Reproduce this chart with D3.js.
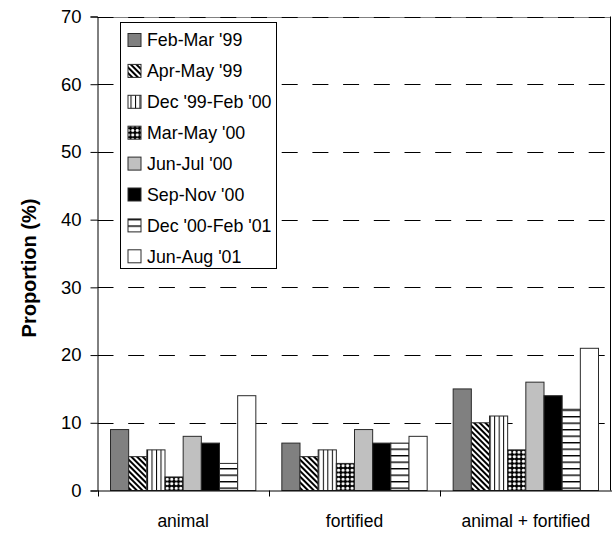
<!DOCTYPE html>
<html>
<head>
<meta charset="utf-8">
<script src="https://cdn.jsdelivr.net/npm/d3@7"></script>
<style>
  html, body { margin: 0; padding: 0; background: #fff; }
  svg { display: block; }
  text { font-family: "Liberation Sans", Arial, sans-serif; fill: #000; }
</style>
</head>
<body>
<svg id="chart" width="612" height="536"></svg>
<script>
const categories = ["animal", "fortified", "animal + fortified"];
const series = ["Feb-Mar '99", "Apr-May '99", "Dec '99-Feb '00", "Mar-May '00", "Jun-Jul '00", "Sep-Nov '00", "Dec '00-Feb '01", "Jun-Aug '01"];
const valuesAnimal = [9, 5, 6, 2, 8, 7, 4, 14];
const valuesFortified = [7, 5, 6, 4, 9, 7, 7, 8];
const valuesBoth = [15, 10, 11, 6, 16, 14, 12, 21];
const yTicks = [0, 10, 20, 30, 40, 50, 60, 70];
const yLabel = "Proportion (%)";

(function () {
const values = [valuesAnimal, valuesFortified, valuesBoth];
const fills = ["#808080", "url(#pDiag)", "url(#pVert)", "url(#pDots)", "#c0c0c0", "#000000", "url(#pHoriz)", "#ffffff"];

const svg = d3.select("#chart");
const defs = svg.append("defs");

const pd = defs.append("pattern").attr("id", "pDiag").attr("patternUnits", "userSpaceOnUse")
  .attr("width", 4).attr("height", 4).attr("patternTransform", "rotate(-45)");
pd.append("rect").attr("width", 4).attr("height", 4).attr("fill", "#fff");
pd.append("rect").attr("width", 2).attr("height", 4).attr("fill", "#000");

const pv = defs.append("pattern").attr("id", "pVert").attr("patternUnits", "userSpaceOnUse")
  .attr("width", 4.5).attr("height", 10);
pv.append("rect").attr("width", 4.5).attr("height", 10).attr("fill", "#fff");
pv.append("rect").attr("x", 0).attr("width", 1).attr("height", 10).attr("fill", "#000");

const pdt = defs.append("pattern").attr("id", "pDots").attr("patternUnits", "userSpaceOnUse")
  .attr("width", 4.5).attr("height", 4.5);
pdt.append("rect").attr("width", 4.5).attr("height", 4.5).attr("fill", "#000");
pdt.append("circle").attr("cx", 2.25).attr("cy", 2.25).attr("r", 1.6).attr("fill", "#fff");

const ph = defs.append("pattern").attr("id", "pHoriz").attr("patternUnits", "userSpaceOnUse")
  .attr("width", 10).attr("height", 6.5);
ph.append("rect").attr("width", 10).attr("height", 6.5).attr("fill", "#fff");
ph.append("rect").attr("y", 0).attr("width", 10).attr("height", 1.4).attr("fill", "#000");

const pLeft = 97.5, pRight = 611.5, pTop = 16.5, pBottom = 490.5;

const y = d3.scaleLinear().domain([0, 70]).range([pBottom, pTop]);
const x0 = d3.scaleBand().domain(categories).range([pLeft, pRight]).padding(0);
const x1 = d3.scaleBand().domain(series).range([13, x0.bandwidth() - 13]).padding(0);

const grid = svg.append("g");
grid.selectAll("line").data(yTicks.filter(d => d > 0 && d < 70)).enter().append("line")
  .attr("x1", pLeft).attr("x2", 610)
  .attr("y1", d => Math.round(y(d)) + 0.5).attr("y2", d => Math.round(y(d)) + 0.5)
  .attr("stroke", "#000").attr("stroke-width", 1)
  .attr("stroke-dasharray", "16,14.7");
grid.append("line").attr("x1", pLeft).attr("x2", 610)
  .attr("y1", Math.round(y(70)) + 0.5).attr("y2", Math.round(y(70)) + 0.5)
  .attr("stroke", "#808080").attr("stroke-width", 1);
grid.append("line").attr("x1", pLeft).attr("x2", 610)
  .attr("y1", Math.round(y(70)) + 0.5).attr("y2", Math.round(y(70)) + 0.5)
  .attr("stroke", "#000").attr("stroke-width", 1).attr("stroke-dasharray", "16,14.7");

svg.append("line").attr("x1", 610.5).attr("x2", 610.5).attr("y1", pTop).attr("y2", pBottom)
  .attr("stroke", "#000");

const groups = svg.append("g").selectAll("g").data(categories).enter().append("g")
  .attr("transform", d => `translate(${x0(d)},0)`);
groups.selectAll("rect").data((c, i) => values[i].map((v, j) => ({ s: series[j], v, j })))
  .enter().append("rect")
  .attr("x", d => x1(d.s))
  .attr("y", d => y(d.v))
  .attr("width", x1.bandwidth())
  .attr("height", d => y(0) - y(d.v))
  .attr("fill", d => fills[d.j])
  .attr("stroke", "#2a2a2a").attr("stroke-width", 1);

const yAxis = d3.axisLeft(y).tickValues(yTicks).tickSize(7).tickPadding(9).tickFormat(d3.format("d"));
const ya = svg.append("g").attr("transform", `translate(${pLeft},0)`).call(yAxis);
ya.select(".domain").attr("stroke", "#000");
ya.selectAll(".tick line").attr("stroke", "#000");
ya.selectAll(".tick text").attr("font-size", "18.5px").attr("font-family", "Liberation Sans, Arial, sans-serif");

const xAxis = d3.axisBottom(x0).tickSize(0).tickPadding(0);
const xa = svg.append("g").attr("transform", `translate(0,${pBottom})`).call(xAxis);
xa.select(".domain").attr("stroke", "#000");
xa.selectAll(".tick text").attr("font-size", "17.5px").attr("dy", "2.1em")
  .attr("font-family", "Liberation Sans, Arial, sans-serif");
const bounds = categories.map(c => x0(c));
svg.append("g").selectAll("line").data(bounds).enter().append("line")
  .attr("x1", d => Math.round(d) + 0.5).attr("x2", d => Math.round(d) + 0.5)
  .attr("y1", pBottom).attr("y2", pBottom + 6).attr("stroke", "#000");

svg.append("text")
  .attr("transform", `translate(36,268) rotate(-90)`)
  .attr("text-anchor", "middle")
  .attr("font-size", "20px").attr("font-weight", "bold")
  .text(yLabel);

const lg = svg.append("g");
lg.append("rect").attr("x", 120.5).attr("y", 22.5).attr("width", 156).attr("height", 246)
  .attr("fill", "#fff").attr("stroke", "#000").attr("stroke-width", 1);
const items = lg.selectAll("g.item").data(series).enter().append("g")
  .attr("transform", (d, i) => `translate(0,${40 + i * 30.9})`);
items.append("rect").attr("x", 128).attr("y", -6.5).attr("width", 13).attr("height", 13)
  .attr("fill", (d, i) => fills[i]).attr("stroke", "#2a2a2a").attr("stroke-width", 1);
items.append("text").attr("x", 147).attr("y", 0).attr("dy", "0.36em")
  .attr("font-size", "17.8px").text(d => d);
})();
</script>
</body>
</html>
